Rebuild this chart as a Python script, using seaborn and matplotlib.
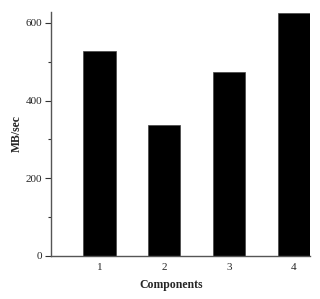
import matplotlib
matplotlib.use("Agg")
import matplotlib.pyplot as plt
from matplotlib.ticker import MultipleLocator
import seaborn as sns
import pandas as pd

components = ["1", "2", "3", "4"]
mb_per_sec = [527, 338, 474, 626]

sns.set_style("ticks")
plt.rcParams["font.family"] = ["Liberation Serif", "DejaVu Serif"]

df = pd.DataFrame({"Components": components, "MB/sec": mb_per_sec})

fig = plt.figure(figsize=(3.2, 2.99), dpi=100)
ax = fig.add_axes([0.159, 0.144, 0.81, 0.816])
sns.barplot(data=df, x="Components", y="MB/sec", color="black", width=0.5,
            saturation=1, edgecolor="#444444", linewidth=0.5, ax=ax)
ax.set_xlim(-0.75, 3.25)
ax.set_ylim(0, 628)
ax.yaxis.set_major_locator(MultipleLocator(200))
ax.yaxis.set_minor_locator(MultipleLocator(100))
ax.tick_params(axis="y", which="major", length=4, width=0.8, labelsize=8, pad=2, color="#333333")
ax.tick_params(axis="y", which="minor", length=2, width=0.8, color="#333333")
ax.tick_params(axis="x", length=0, labelsize=8, pad=5)
for s in ["top", "right"]:
    ax.spines[s].set_visible(False)
for s in ["left", "bottom"]:
    ax.spines[s].set_color("#555555")
    ax.spines[s].set_linewidth(1)
ax.set_xlabel("Components", fontsize=8.5, fontweight="bold")
ax.set_ylabel("MB/sec", fontsize=8.5, fontweight="bold")
ax.xaxis.set_label_coords(0.463, -0.093)
ax.yaxis.set_label_coords(-0.11, 0.5)
fig.savefig("out.png", dpi=100)
